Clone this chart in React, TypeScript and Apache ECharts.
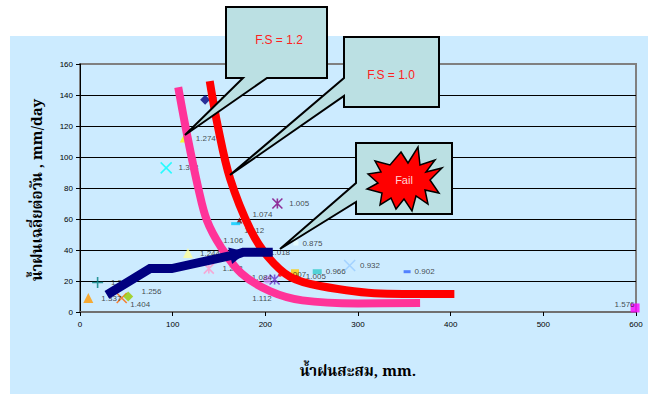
import React, { useEffect, useRef } from "react";
import * as echarts from "echarts";

// Observed points: cumulative rainfall (mm) vs. average daily rainfall (mm/day), each tagged with its F.S value
const pointX = [135, 112, 93, 213, 172, 168, 148, 233, 197.5, 116.5, 139, 179, 202, 210, 232, 216, 256, 234, 291, 353, 599, 9, 45, 52, 19];
const pointY = [137, 112, 93, 70, 59, 57, 46, 44.5, 38.7, 38, 28, 22, 21, 21, 25, 24, 26, 22.6, 30, 26, 2.6, 9, 9, 10, 19];
const pointLabel = ["1.228", "1.274", "1.318", "1.005", "1.074", "1.012", "1.106", "0.875", "1.018", "1.244", "1.223", "1.084", "1.112", "", "", "1.007", "0.966", "1.005", "0.932", "0.902", "1.576", "1.337", "1.256", "1.404", "1.390"];

// F.S = 1.2 boundary
const fs12X = [106, 116, 128, 137, 152, 174, 205, 240, 300, 367];
const fs12Y = [145, 113, 79, 59, 42, 25, 13.5, 7.5, 5.5, 5.8];

// F.S = 1.0 boundary
const fs10X = [140, 149, 162, 184, 203, 227, 259, 324, 404];
const fs10Y = [149, 119, 86, 53, 35.5, 22.6, 16.8, 12, 11.6];

// Failure path
const failX = [29, 75.5, 99, 171, 176, 208];
const failY = [11, 28, 28, 37.5, 38.5, 38.5];

const CROSS = "path://M0,0L10,10M10,0L0,10";
const PLUS = "path://M5,0L5,10M0,5L10,5";
const ASTER = "path://M0,0L10,10M10,0L0,10M5,0L5,10";

type Mark = { symbol: string; color: string; size: number | number[]; line?: boolean; pos?: string; off?: number[] };
const marks: Mark[] = [
  { symbol: "diamond", color: "#000080", size: 10 },
  { symbol: "triangle", color: "#FFFF00", size: 8, off: [4, 0] },
  { symbol: CROSS, color: "#00FFFF", size: 11, line: true, off: [2, 0] },
  { symbol: ASTER, color: "#800080", size: 10, line: true, off: [2, 0] },
  { symbol: "triangle", color: "#800000", size: 6, off: [6, -6] },
  { symbol: "rect", color: "#00CCFF", size: [9, 3], off: [0, 7] },
  { symbol: "circle", color: "#FF3399", size: 4 },
  { symbol: "rect", color: "#E8FFFF", size: 5 },
  { symbol: "circle", color: "#000080", size: 6 },
  { symbol: "triangle", color: "#FFFF99", size: 10, off: [3, 0] },
  { symbol: ASTER, color: "#FF99CC", size: 10, line: true, off: [4, 0] },
  { symbol: "circle", color: "#FF3399", size: 4 },
  { symbol: "circle", color: "#CC99FF", size: 8, off: [-23, 19] },
  { symbol: ASTER, color: "#6633CC", size: 10, line: true },
  { symbol: "rect", color: "#FFCC00", size: 8 },
  { symbol: "circle", color: "#FF0000", size: 4 },
  { symbol: "rect", color: "#33CCCC", size: [9, 5] },
  { symbol: "circle", color: "#FF0000", size: 4, off: [3, 0] },
  { symbol: CROSS, color: "#99CCFF", size: 11, line: true },
  { symbol: "rect", color: "#3366FF", size: [7, 3] },
  { symbol: "rect", color: "#FF00FF", size: 9, pos: "left", off: [8, -3] },
  { symbol: "triangle", color: "#FF9900", size: 10, off: [4, 0] },
  { symbol: CROSS, color: "#FF6600", size: 10, line: true, off: [10, -7] },
  { symbol: "diamond", color: "#99CC00", size: 10, off: [-7, 8] },
  { symbol: PLUS, color: "#008080", size: 11, line: true, off: [3, 0] },
];

const starPts = [
  [401, 152], [408, 163], [418, 147], [420, 165], [435, 160], [426, 172], [442, 168], [430, 180],
  [439, 193], [425, 190], [428, 204], [416, 196], [412, 211], [404, 199], [396, 209], [391, 198],
  [380, 205], [382, 193], [367, 189], [378, 183], [368, 174], [381, 172], [375, 161], [390, 165],
];

const BOX_FILL = "#BBE0E3";
const THAI_FONT = '"Noto Serif Thai", "Noto Sans Thai", Tahoma, "DejaVu Serif", serif';

export default function App() {
  const ref = useRef<HTMLDivElement>(null);

  useEffect(() => {
    if (!ref.current) return;
    const chart = echarts.init(ref.current, undefined, { renderer: "svg" });

    const scatterData = pointX.map((x, i) => {
      const m = marks[i];
      return {
        value: [x, pointY[i]],
        symbol: m.symbol,
        symbolSize: m.size,
        itemStyle: m.line
          ? { color: "rgba(0,0,0,0)", borderColor: m.color, borderWidth: 1.6 }
          : { color: m.color, borderWidth: 0 },
        label: {
          show: pointLabel[i] !== "",
          formatter: pointLabel[i],
          position: m.pos || "right",
          distance: 4,
          offset: m.off || [0, 0],
        },
      };
    });

    const failData = failX.map((x, i) =>
      i === 3
        ? { value: [x, failY[i]], symbol: "triangle", symbolSize: 17, symbolRotate: -77 }
        : { value: [x, failY[i]] }
    );

    chart.setOption({
      animation: false,
      grid: {
        left: 80,
        right: 17,
        top: 64,
        bottom: 82,
        show: true,
        borderColor: "#808080",
        borderWidth: 2,
        backgroundColor: "transparent",
      },
      xAxis: {
        type: "value",
        min: 0,
        max: 600,
        interval: 100,
        axisLine: { show: true, lineStyle: { color: "#707070", width: 2 } },
        axisTick: { show: true, length: 4, lineStyle: { color: "#000" } },
        axisLabel: { fontSize: 8, color: "#000", fontFamily: "Liberation Sans, Arial", margin: 8 },
        splitLine: { show: false },
      },
      yAxis: {
        type: "value",
        min: 0,
        max: 160,
        interval: 20,
        axisLine: { show: true, lineStyle: { color: "#000", width: 1 } },
        axisTick: { show: true, length: 4, lineStyle: { color: "#000" } },
        axisLabel: { fontSize: 8, color: "#000", fontFamily: "Liberation Sans, Arial", margin: 7 },
        splitLine: { show: true, showMinLine: false, showMaxLine: false, lineStyle: { color: "#000", width: 1 } },
      },
      series: [
        {
          type: "scatter",
          z: 2,
          data: scatterData,
          label: { fontSize: 8, color: "#1a1a1a", fontFamily: "Liberation Sans, Arial" },
        },
        {
          type: "line",
          z: 3,
          smooth: 0.35,
          symbol: "none",
          data: fs12X.map((x, i) => [x, fs12Y[i]]),
          lineStyle: { color: "#FF3399", width: 8 },
        },
        {
          type: "line",
          z: 4,
          smooth: 0.35,
          symbol: "none",
          data: fs10X.map((x, i) => [x, fs10Y[i]]),
          lineStyle: { color: "#FF0000", width: 8 },
        },
        {
          type: "line",
          z: 5,
          symbol: "none",
          showSymbol: true,
          data: failData,
          itemStyle: { color: "#000080" },
          lineStyle: { color: "#000080", width: 9, join: "miter" },
        },
      ],
      graphic: {
        elements: [
          {
            type: "rect",
            z: -10,
            silent: true,
            shape: { x: 10, y: 36, width: 638, height: 358 },
            style: { fill: "#CCEBFF" },
          },
          {
            type: "text",
            z: 50,
            x: 38,
            y: 190,
            rotation: Math.PI / 2,
            style: {
              text: "น้ำฝนเฉลี่ยต่อวัน , mm/day",
              fontSize: 15,
              fontWeight: "bold",
              fontFamily: THAI_FONT,
              fill: "#000",
              align: "center",
              verticalAlign: "middle",
            },
          },
          {
            type: "text",
            z: 50,
            x: 358,
            y: 372,
            style: {
              text: "น้ำฝนสะสม, mm.",
              fontSize: 15,
              fontWeight: "bold",
              fontFamily: THAI_FONT,
              fill: "#000",
              align: "center",
              verticalAlign: "middle",
            },
          },
          // F.S = 1.2 callout
          {
            type: "polygon",
            z: 100,
            shape: { points: [[226, 7], [327, 7], [327, 78], [267, 78], [185, 135], [243, 78], [226, 78]] },
            style: { fill: BOX_FILL, stroke: "#000", lineWidth: 2 },
          },
          {
            type: "text",
            z: 101,
            x: 279,
            y: 40,
            style: { text: "F.S = 1.2", fontSize: 12, fontFamily: "Liberation Sans, Arial", fill: "#FF2020", align: "center", verticalAlign: "middle" },
          },
          // F.S = 1.0 callout
          {
            type: "polygon",
            z: 100,
            shape: { points: [[344, 37], [439, 37], [439, 107], [344, 107], [344, 96], [230, 175], [344, 78]] },
            style: { fill: BOX_FILL, stroke: "#000", lineWidth: 2 },
          },
          {
            type: "text",
            z: 101,
            x: 391,
            y: 75,
            style: { text: "F.S = 1.0", fontSize: 12, fontFamily: "Liberation Sans, Arial", fill: "#FF2020", align: "center", verticalAlign: "middle" },
          },
          // Fail callout
          {
            type: "polygon",
            z: 100,
            shape: { points: [[356, 143], [452, 143], [452, 214], [356, 214], [356, 202], [280, 249], [356, 183]] },
            style: { fill: BOX_FILL, stroke: "#000", lineWidth: 2 },
          },
          {
            type: "polygon",
            z: 101,
            shape: { points: starPts },
            style: { fill: "#FF0000", stroke: "#000", lineWidth: 1.5 },
          },
          {
            type: "text",
            z: 102,
            x: 404,
            y: 180,
            style: { text: "Fail", fontSize: 11, fontFamily: "Liberation Sans, Arial", fill: "#FFD6D6", align: "center", verticalAlign: "middle" },
          },
        ],
      },
    });

    return () => chart.dispose();
  }, []);

  return <div ref={ref} style={{ position: "fixed", left: 0, top: 0, width: 653, height: 394, background: "#fff" }} />;
}
